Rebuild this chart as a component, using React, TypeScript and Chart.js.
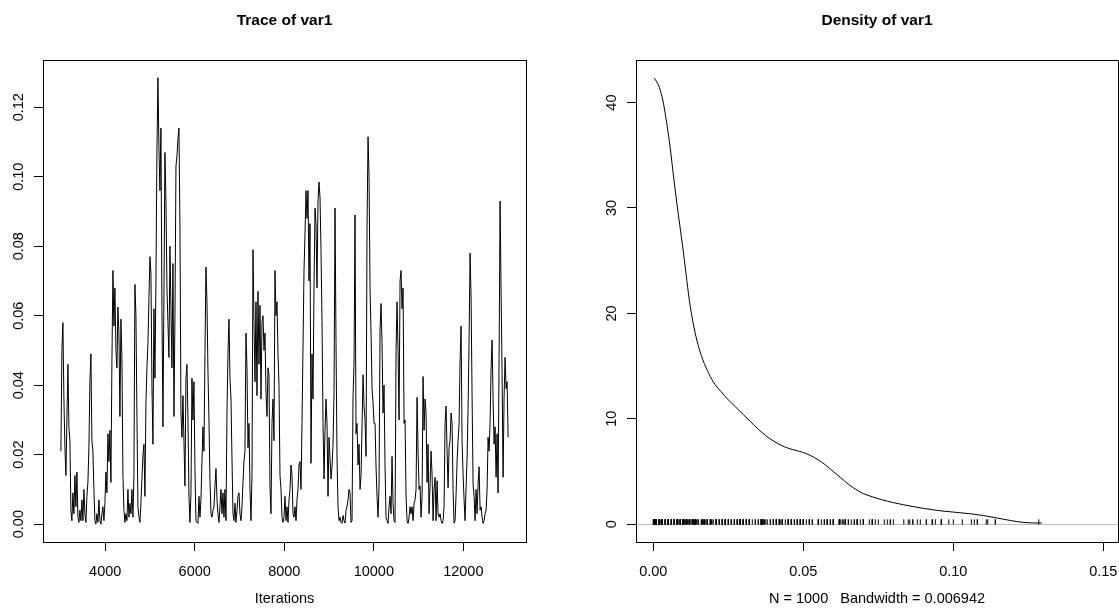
import React, { useEffect, useRef } from 'react';
import { Chart, registerables } from 'chart.js';

Chart.register(...registerables);

const FONT = '"Liberation Sans", Arial, Helvetica, sans-serif';

// ---- Trace of var1 (in iteration order) ----
const TRACE_VALUES = [
  0.021, 0.050, 0.058, 0.036, 0.022, 0.014, 0.030, 0.046, 0.028, 0.024,
  0.004, 0.001, 0.009, 0.003, 0.014, 0.005, 0.015, 0.002, 0.0005, 0.004,
  0.001, 0.007, 0.001, 0.010, 0.003, 0.0005, 0.008, 0.012, 0.022, 0.041,
  0.049, 0.024, 0.021, 0.010, 0.001, 0.0000, 0.003, 0.0005, 0.007, 0.001,
  0.0000, 0.003, 0.005, 0.001, 0.006, 0.015, 0.009, 0.026, 0.018, 0.027,
  0.012, 0.047, 0.073, 0.057, 0.068, 0.050, 0.045, 0.0625, 0.055, 0.031,
  0.059, 0.048, 0.014, 0.004, 0.0005, 0.003, 0.001, 0.010, 0.002, 0.006,
  0.003, 0.010, 0.002, 0.014, 0.069, 0.060, 0.031, 0.005, 0.002, 0.0005,
  0.006, 0.013, 0.020, 0.023, 0.008, 0.035, 0.045, 0.052, 0.065, 0.077,
  0.072, 0.040, 0.023, 0.062, 0.042, 0.070, 0.108, 0.1285, 0.108, 0.096,
  0.114, 0.062, 0.028, 0.066, 0.107, 0.093, 0.068, 0.058, 0.048, 0.080,
  0.062, 0.045, 0.075, 0.031, 0.060, 0.103, 0.106, 0.111, 0.114, 0.085,
  0.032, 0.025, 0.037, 0.024, 0.011, 0.042, 0.046, 0.030, 0.008, 0.0005,
  0.009, 0.042, 0.030, 0.041, 0.016, 0.001, 0.0005, 0.0002, 0.008, 0.002,
  0.007, 0.018, 0.028, 0.021, 0.049, 0.074, 0.064, 0.044, 0.030, 0.013,
  0.003, 0.002, 0.004, 0.005, 0.011, 0.016, 0.007, 0.003, 0.0005, 0.005,
  0.010, 0.003, 0.009, 0.002, 0.010, 0.001, 0.032, 0.049, 0.059, 0.042,
  0.036, 0.019, 0.003, 0.001, 0.006, 0.0005, 0.004, 0.008, 0.009, 0.003,
  0.001, 0.005, 0.012, 0.018, 0.021, 0.055, 0.045, 0.022, 0.029, 0.010,
  0.001, 0.014, 0.079, 0.058, 0.041, 0.064, 0.037, 0.067, 0.046, 0.063,
  0.036, 0.058, 0.060, 0.050, 0.055, 0.038, 0.031, 0.045, 0.043, 0.011,
  0.003, 0.029, 0.036, 0.024, 0.073, 0.060, 0.064, 0.049, 0.040, 0.014,
  0.010, 0.002, 0.0005, 0.002, 0.008, 0.001, 0.005, 0.0005, 0.007, 0.010,
  0.017, 0.014, 0.003, 0.002, 0.005, 0.001, 0.007, 0.010, 0.017, 0.018,
  0.010, 0.029, 0.051, 0.073, 0.0835, 0.096, 0.088, 0.096, 0.070, 0.0865,
  0.0175, 0.049, 0.036, 0.068, 0.091, 0.0865, 0.068, 0.093, 0.0985, 0.094,
  0.079, 0.058, 0.029, 0.013, 0.027, 0.036, 0.029, 0.008, 0.025, 0.019,
  0.013, 0.0165, 0.023, 0.0375, 0.091, 0.052, 0.019, 0.005, 0.001, 0.002,
  0.0005, 0.0002, 0.0025, 0.001, 0.0003, 0.004, 0.005, 0.007, 0.010, 0.009,
  0.0005, 0.001, 0.0365, 0.046, 0.089, 0.026, 0.029, 0.017, 0.023, 0.010,
  0.014, 0.028, 0.043, 0.034, 0.030, 0.0195, 0.0855, 0.1115, 0.100, 0.068,
  0.055, 0.039, 0.035, 0.029, 0.029, 0.0165, 0.008, 0.002, 0.011, 0.056,
  0.0635, 0.052, 0.032, 0.040, 0.0165, 0.002, 0.001, 0.0002, 0.005, 0.008,
  0.003, 0.0195, 0.006, 0.001, 0.0005, 0.050, 0.064, 0.050, 0.030, 0.070,
  0.073, 0.062, 0.068, 0.029, 0.030, 0.008, 0.001, 0.0002, 0.002, 0.005,
  0.003, 0.005, 0.001, 0.006, 0.007, 0.010, 0.0365, 0.021, 0.010, 0.011,
  0.002, 0.008, 0.0425, 0.027, 0.036, 0.032, 0.012, 0.023, 0.003, 0.011,
  0.021, 0.0145, 0.001, 0.010, 0.0135, 0.001, 0.0125, 0.003, 0.002, 0.003,
  0.001, 0.0002, 0.001, 0.005, 0.029, 0.034, 0.021, 0.0105, 0.022, 0.024,
  0.032, 0.029, 0.010, 0.0003, 0.001, 0.0085, 0.018, 0.024, 0.029, 0.047,
  0.057, 0.024, 0.0145, 0.007, 0.001, 0.0105, 0.019, 0.033, 0.053, 0.078,
  0.065, 0.0365, 0.0115, 0.008, 0.001, 0.010, 0.003, 0.0115, 0.0165, 0.004,
  0.005, 0.002, 0.0002, 0.001, 0.003, 0.004, 0.010, 0.025, 0.021, 0.029,
  0.045, 0.053, 0.036, 0.023, 0.028, 0.0135, 0.026, 0.009, 0.048, 0.093,
  0.067, 0.043, 0.0135, 0.0365, 0.048, 0.039, 0.041, 0.025,
];
const ITER_FIRST = 3010;
const ITER_LAST = 13000;
const TRACE_X_TICKS = [4000, 6000, 8000, 10000, 12000];
const TRACE_Y_TICKS = [0, 0.02, 0.04, 0.06, 0.08, 0.1, 0.12];
const TRACE_X_RANGE = [2610, 13400];
const TRACE_Y_RANGE = [-0.00514, 0.1336];

// ---- Density of var1 (curve) ----
const DENS_X = [
  0.0003, 0.002, 0.0033, 0.0045, 0.0056, 0.0069, 0.0083, 0.0098, 0.0109, 0.012,
  0.0133, 0.0145, 0.016, 0.018, 0.02, 0.0225, 0.025, 0.0275, 0.03, 0.0325,
  0.035, 0.0375, 0.04, 0.0425, 0.045, 0.0475, 0.05, 0.0525, 0.055, 0.0575,
  0.06, 0.0625, 0.065, 0.0675, 0.07, 0.073, 0.0761, 0.08, 0.0833, 0.087,
  0.0905, 0.0945, 0.1, 0.1056, 0.11, 0.1145, 0.119, 0.1233, 0.1265, 0.1295,
];
const DENS_Y = [
  42.35, 41.46, 40.04, 37.99, 35.78, 32.62, 29.47, 26.31, 23.79, 21.26,
  19.05, 17.47, 16.0, 14.6, 13.5, 12.6, 11.8, 11.1, 10.4, 9.7,
  9.0, 8.4, 7.9, 7.5, 7.2, 7.0, 6.8, 6.5, 6.1, 5.6,
  5.0, 4.4, 3.8, 3.3, 2.9, 2.6, 2.32, 2.05, 1.85, 1.65,
  1.48, 1.31, 1.15, 0.99, 0.82, 0.59, 0.35, 0.17, 0.12, 0.11,
];
const RUG_HEIGHT = 0.4235;
const DENS_X_TICKS = [0, 0.05, 0.1, 0.15];
const DENS_Y_TICKS = [0, 10, 20, 30, 40];
const DENS_X_RANGE = [-0.00577, 0.1549];
const DENS_Y_RANGE = [-1.69, 44.04];
const N_OBS = 1000;
const BANDWIDTH = '0.006942';

const TICK_FONT = { family: FONT, size: 14.5 };

type Deco = { title: string; yFormat: 'fixed2' | 'int'; zeroLine: boolean };

function rDecor(d: Deco) {
  return {
    id: 'rDecor',
    beforeDatasetsDraw(chart: any) {
      if (!d.zeroLine) return;
      const { ctx, chartArea: a, scales } = chart;
      const y = Math.round(scales.y.getPixelForValue(0)) + 0.5;
      ctx.save();
      ctx.strokeStyle = '#bebebe';
      ctx.lineWidth = 1;
      ctx.beginPath();
      ctx.moveTo(a.left, y);
      ctx.lineTo(a.right, y);
      ctx.stroke();
      ctx.restore();
    },
    afterDraw(chart: any) {
      const { ctx, chartArea: a, scales } = chart;
      ctx.save();
      ctx.strokeStyle = '#000';
      ctx.lineWidth = 1;
      const l = Math.round(a.left), t = Math.round(a.top);
      const r = Math.round(a.right), b = Math.round(a.bottom);
      ctx.strokeRect(l + 0.5, t + 0.5, r - l, b - t);
      const ys = scales.y;
      ctx.fillStyle = '#000';
      ctx.font = `14.5px ${FONT}`;
      ctx.textAlign = 'center';
      ctx.textBaseline = 'middle';
      for (const tk of ys.ticks) {
        const py = ys.getPixelForValue(tk.value);
        const txt = d.yFormat === 'fixed2' ? Number(tk.value).toFixed(2) : String(Math.round(tk.value));
        ctx.save();
        ctx.translate(a.left - 24, py);
        ctx.rotate(-Math.PI / 2);
        ctx.fillText(txt, 0, 0);
        ctx.restore();
      }
      ctx.font = `bold 15.5px ${FONT}`;
      ctx.fillText(d.title, (a.left + a.right) / 2, 21);
      ctx.restore();
    },
  };
}

function axisX(range: number[], ticksArr: number[], fmt: (v: number) => string, title: string) {
  return {
    type: 'linear',
    min: range[0],
    max: range[1],
    afterBuildTicks: (s: any) => {
      s.ticks = ticksArr.map((v) => ({ value: v }));
    },
    afterFit: (s: any) => {
      s.height = 72;
      s.paddingLeft = 0;
      s.paddingRight = 0;
    },
    ticks: {
      autoSkip: false,
      maxRotation: 0,
      minRotation: 0,
      padding: 12,
      color: '#000',
      font: TICK_FONT,
      callback: (v: any) => fmt(Number(v)),
    },
    grid: { display: true, drawOnChartArea: false, drawTicks: true, tickLength: 9, color: '#000', lineWidth: 1 },
    border: { display: false },
    title: { display: true, text: title, color: '#000', font: TICK_FONT, padding: { top: 0, bottom: 6 } },
  };
}

function axisY(range: number[], ticksArr: number[], width: number) {
  return {
    type: 'linear',
    min: range[0],
    max: range[1],
    afterBuildTicks: (s: any) => {
      s.ticks = ticksArr.map((v) => ({ value: v }));
    },
    afterFit: (s: any) => {
      s.width = width;
      s.paddingTop = 0;
      s.paddingBottom = 0;
    },
    ticks: { display: false },
    grid: { display: true, drawOnChartArea: false, drawTicks: true, tickLength: 9, color: '#000', lineWidth: 1 },
    border: { display: false },
  };
}

function buildTrace(): any {
  const step = (ITER_LAST - ITER_FIRST) / (TRACE_VALUES.length - 1);
  const pts = TRACE_VALUES.map((v, i) => ({ x: ITER_FIRST + i * step, y: v }));
  return {
    type: 'line',
    data: {
      datasets: [
        { data: pts, borderColor: '#000', borderWidth: 1, pointRadius: 0, tension: 0, fill: false },
      ],
    },
    options: {
      animation: false,
      responsive: false,
      events: [],
      layout: { autoPadding: false, padding: { top: 60, right: 34, left: 0, bottom: 0 } },
      plugins: { legend: { display: false }, tooltip: { enabled: false } },
      scales: {
        x: axisX(TRACE_X_RANGE, TRACE_X_TICKS, (v) => String(v), 'Iterations'),
        y: axisY(TRACE_Y_RANGE, TRACE_Y_TICKS, 43),
      },
    },
    plugins: [rDecor({ title: 'Trace of var1', yFormat: 'fixed2', zeroLine: false })],
  };
}

function buildDensity(): any {
  const curve = DENS_X.map((x, i) => ({ x, y: DENS_Y[i] }));
  const rug = TRACE_VALUES.map((v) => ({ x: v, y: RUG_HEIGHT / 2 }));
  return {
    type: 'line',
    data: {
      datasets: [
        {
          data: curve,
          borderColor: '#000',
          borderWidth: 1,
          pointRadius: 0,
          cubicInterpolationMode: 'monotone',
          fill: false,
        },
        {
          data: rug,
          showLine: false,
          pointStyle: 'line',
          pointRotation: 90,
          pointRadius: 2.6,
          pointBorderWidth: 1,
          pointBorderColor: '#000',
          pointBackgroundColor: '#000',
        },
      ],
    },
    options: {
      animation: false,
      responsive: false,
      events: [],
      layout: { autoPadding: false, padding: { top: 60, right: 1, left: 0, bottom: 0 } },
      plugins: { legend: { display: false }, tooltip: { enabled: false } },
      scales: {
        x: axisX(
          DENS_X_RANGE,
          DENS_X_TICKS,
          (v) => v.toFixed(2),
          `N = ${N_OBS}   Bandwidth = ${BANDWIDTH}`
        ),
        y: axisY(DENS_Y_RANGE, DENS_Y_TICKS, 76),
      },
    },
    plugins: [rDecor({ title: 'Density of var1', yFormat: 'int', zeroLine: true })],
  };
}

function ChartCanvas({ left, width, build }: { left: number; width: number; build: () => any }) {
  const ref = useRef<HTMLCanvasElement | null>(null);
  useEffect(() => {
    if (!ref.current) return;
    const chart = new Chart(ref.current, build());
    return () => chart.destroy();
  }, [build]);
  return (
    <canvas
      ref={ref}
      width={width}
      height={614}
      style={{ position: 'absolute', left, top: 0, width, height: 614, display: 'block' }}
    />
  );
}

export default function App() {
  return (
    <div
      style={{
        position: 'fixed',
        left: 0,
        top: 0,
        width: 1119,
        height: 614,
        background: '#fff',
        overflow: 'hidden',
      }}
    >
      <ChartCanvas left={0} width={560} build={buildTrace} />
      <ChartCanvas left={560} width={559} build={buildDensity} />
    </div>
  );
}
